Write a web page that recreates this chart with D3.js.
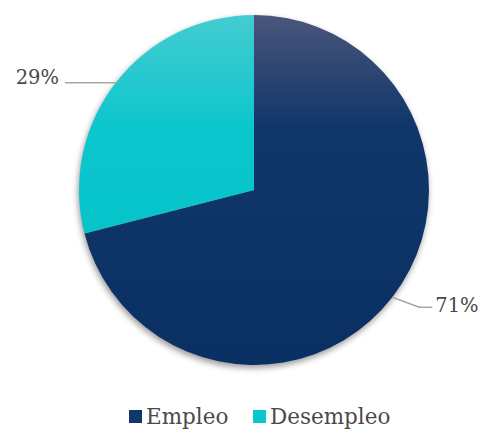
<!DOCTYPE html>
<html><head><meta charset="utf-8">
<script src="https://cdn.jsdelivr.net/npm/d3@7"></script>
<style>body{margin:0;background:#fff}</style>
</head><body>
<script>
const categories = ["Empleo", "Desempleo"];
const values = [71, 29];
const labels = ["71%", "29%"];

const W = 480, H = 430, cx = 254, cy = 190, R = 175;
const font = "'DejaVu Serif', Georgia, serif";
const svg = d3.select("body").append("svg").attr("width", W).attr("height", H);
const defs = svg.append("defs");
const grads = [["gE", "#4a567b", "#10366a", "#0a2f63"], ["gD", "#44ccd1", "#0cc6cd", "#00c0c7"]];
grads.forEach(([id, a, b, c]) => {
  const g = defs.append("linearGradient").attr("id", id).attr("gradientUnits", "userSpaceOnUse")
    .attr("x1", 0).attr("y1", -R).attr("x2", 0).attr("y2", R);
  g.append("stop").attr("offset", "0").attr("stop-color", a);
  g.append("stop").attr("offset", "0.32").attr("stop-color", b);
  g.append("stop").attr("offset", "1").attr("stop-color", c);
});
const f = defs.append("filter").attr("id", "sh").attr("x", "-20%").attr("y", "-20%").attr("width", "140%").attr("height", "140%");
f.append("feGaussianBlur").attr("in", "SourceGraphic").attr("stdDeviation", 3);

const color = d3.scaleOrdinal().domain(categories).range(["url(#gE)", "url(#gD)"]);
const pie = d3.pie().sort(null).value(d => d.v);
const data = categories.map((c, i) => ({c, v: values[i], l: labels[i]}));
const arcs = pie(data);
const arc = d3.arc().innerRadius(0).outerRadius(R);
const g = svg.append("g").attr("transform", `translate(${cx},${cy})`);
// soft shadow
g.append("circle").attr("cx", -1).attr("cy", 3).attr("r", R).attr("fill", "#000")
  .attr("opacity", 0.4).attr("filter", "url(#sh)");
g.append("g").selectAll("path").data(arcs).join("path")
  .attr("d", arc).attr("fill", d => color(d.data.c));

// labels
arcs.forEach(d => {
  const mid = (d.startAngle + d.endAngle) / 2;
  const px = Math.sin(mid) * R, py = -Math.cos(mid) * R;
  let pts, tx, ty, anchor;
  if (Math.sin(mid) > 0) {
    pts = [[px, py], [px + 27, py + 10], [px + 40, py + 10]];
    tx = px + 43; ty = py + 15; anchor = "start";
  } else {
    pts = [[px, py], [-R - 14, py]];
    tx = -R - 20; ty = py + 1; anchor = "end";
  }
  g.append("path").attr("d", d3.line()(pts)).attr("fill", "none").attr("stroke", "#a6a6a6").attr("stroke-width", 1.5);
  g.append("text").attr("x", tx).attr("y", ty).attr("text-anchor", anchor)
    .attr("font-family", font).attr("font-size", 19.5).attr("fill", "#4a4a4a").text(d.data.l);
});

// legend
const leg = svg.append("g");
const lx = [129, 253];
categories.forEach((c, i) => {
  leg.append("rect").attr("x", lx[i]).attr("y", 410).attr("width", 13).attr("height", 13)
    .attr("fill", i === 0 ? "#10366a" : "#0cc6cd");
  leg.append("text").attr("x", lx[i] + 17).attr("y", 424).attr("font-family", font)
    .attr("font-size", 21.5).attr("fill", "#4a4a4a").text(c);
});
</script>
</body></html>
